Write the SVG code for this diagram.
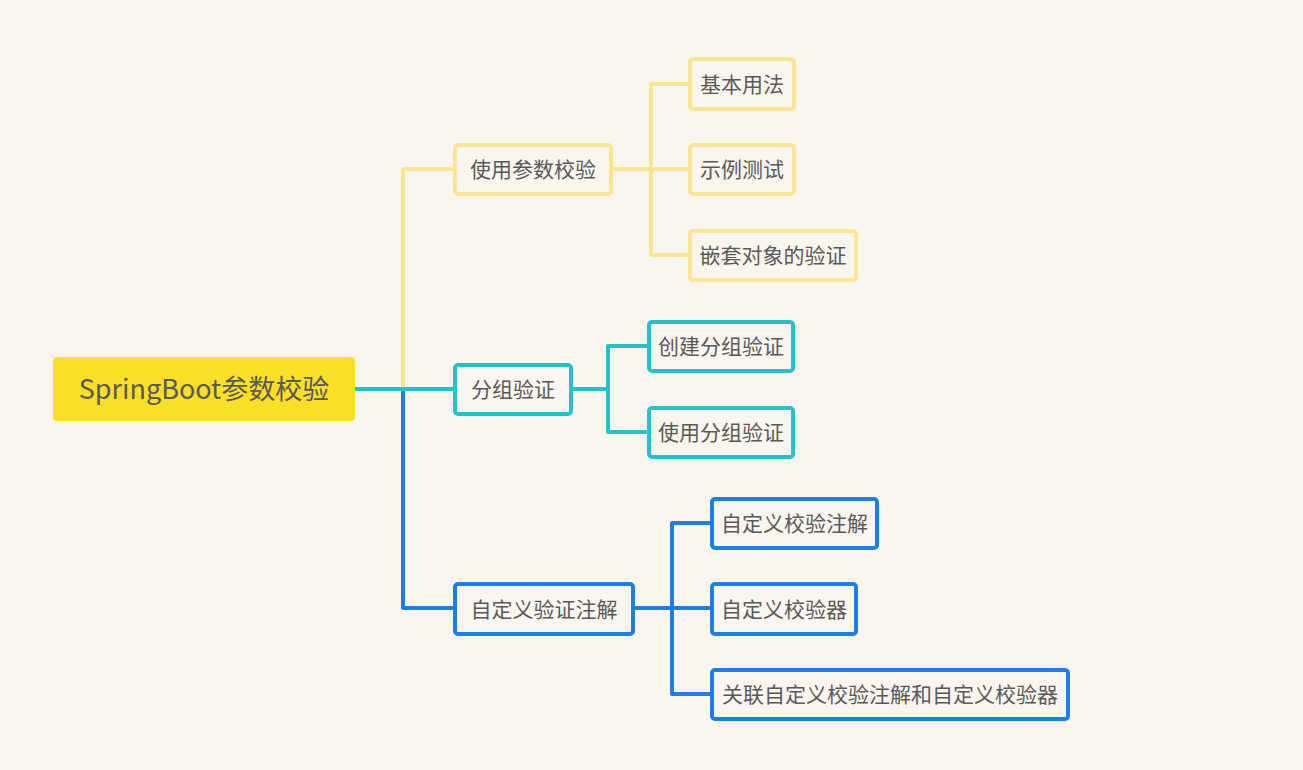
<svg xmlns="http://www.w3.org/2000/svg" width="1303" height="770" viewBox="0 0 1303 770">
<style>
  text { font-family: "Noto Sans CJK SC", "Noto Sans", sans-serif; fill: #595959; text-anchor: middle; dominant-baseline: central; }
  .t1 { font-size: 21px; }
  .t0 { font-size: 27px; }
  .box { fill: #FAF6EF; stroke-width: 4; }
  .y { stroke: #FFE592; }
  .c { stroke: #22C2CB; }
  .b { stroke: #1A7FEA; }
  .ln { fill: none; stroke-width: 4; stroke-linejoin: round; }
</style>
<rect width="1303" height="770" fill="#FAF6EF"/>
<g id="connectors">
  <path class="ln y" d="M403,389 V169 H455"/>
  <path class="ln b" d="M403,389 V608 H455"/>
  <path class="ln c" d="M355,389 H455"/>
  <path class="ln y" d="M611,169 H690 M651,169 V84 H690 M651,169 V255 H690"/>
  <path class="ln c" d="M571,389 H608 M608,389 V346 H649 M608,389 V432 H649"/>
  <path class="ln b" d="M633,608 H712 M672,608 V523 H712 M672,608 V694 H712"/>
</g>
<g id="root">
  <rect x="53" y="357" width="302" height="64" rx="4" fill="#FADF27"/>
  <text class="t0" x="204" y="387">SpringBoot参数校验</text>
</g>
<g id="n1">
  <rect class="box y" x="455" y="145" width="156" height="49" rx="3"/>
  <text class="t1" x="533" y="168">使用参数校验</text>
</g>
<g id="n2">
  <rect class="box c" x="455" y="365" width="116" height="49" rx="3"/>
  <text class="t1" x="513" y="388">分组验证</text>
</g>
<g id="n3">
  <rect class="box b" x="455" y="584" width="178" height="50" rx="3"/>
  <text class="t1" x="544" y="607.5">自定义验证注解</text>
</g>
<g id="n1a">
  <rect class="box y" x="690" y="59" width="104" height="50" rx="3"/>
  <text class="t1" x="742" y="82.5">基本用法</text>
</g>
<g id="n1b">
  <rect class="box y" x="690" y="145" width="104" height="49" rx="3"/>
  <text class="t1" x="742" y="168">示例测试</text>
</g>
<g id="n1c">
  <rect class="box y" x="690" y="231" width="166" height="49" rx="3"/>
  <text class="t1" x="773" y="254">嵌套对象的验证</text>
</g>
<g id="n2a">
  <rect class="box c" x="649" y="322" width="144" height="49" rx="3"/>
  <text class="t1" x="721" y="345">创建分组验证</text>
</g>
<g id="n2b">
  <rect class="box c" x="649" y="408" width="144" height="49" rx="3"/>
  <text class="t1" x="721" y="431">使用分组验证</text>
</g>
<g id="n3a">
  <rect class="box b" x="712" y="499" width="165" height="49" rx="3"/>
  <text class="t1" x="794.5" y="522">自定义校验注解</text>
</g>
<g id="n3b">
  <rect class="box b" x="712" y="584" width="144" height="50" rx="3"/>
  <text class="t1" x="784" y="607.5">自定义校验器</text>
</g>
<g id="n3c">
  <rect class="box b" x="712" y="670" width="356" height="49" rx="3"/>
  <text class="t1" x="890" y="693">关联自定义校验注解和自定义校验器</text>
</g>
</svg>
